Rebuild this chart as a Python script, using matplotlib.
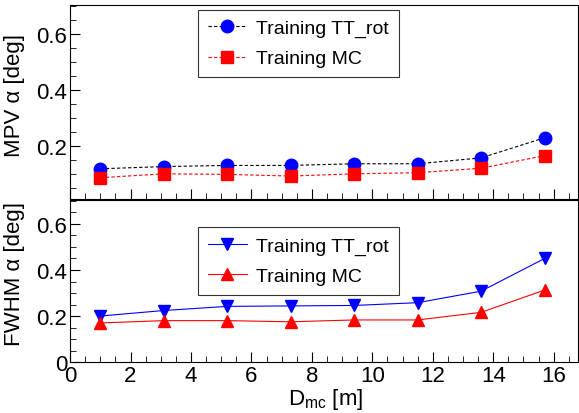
import matplotlib
matplotlib.use("Agg")
import matplotlib.pyplot as plt
from matplotlib.ticker import MultipleLocator, FuncFormatter

plt.rcParams['font.family'] = ['Liberation Sans', 'DejaVu Sans']
plt.rcParams['mathtext.fontset'] = 'custom'
plt.rcParams['mathtext.rm'] = 'Liberation Sans'

# data
dmc = [1.0, 3.1, 5.2, 7.3, 9.4, 11.5, 13.6, 15.7]
mpv_tt = [0.118, 0.126, 0.130, 0.130, 0.136, 0.136, 0.157, 0.229]
mpv_mc = [0.086, 0.100, 0.098, 0.092, 0.100, 0.104, 0.120, 0.165]
fwhm_tt = [0.200, 0.224, 0.242, 0.244, 0.246, 0.258, 0.308, 0.450]
fwhm_mc = [0.170, 0.180, 0.180, 0.175, 0.183, 0.183, 0.216, 0.313]

fig = plt.figure(figsize=(5.79, 4.14), dpi=100)
ax1 = fig.add_axes([0.121, 0.517, 0.877, 0.469])
ax2 = fig.add_axes([0.121, 0.123, 0.877, 0.392])

fs = 16

ax1.plot(dmc, mpv_tt, ls=(0, (3, 2)), lw=0.8, color='black', marker='o',
         ms=9, mfc='blue', mec='blue', label='Training TT_rot')
ax1.plot(dmc, mpv_mc, ls=(0, (3, 2)), lw=0.8, color='red', marker='s',
         ms=9, mfc='red', mec='red', label='Training MC')
ax1.set_ylim(0.01, 0.705)
ax1.set_ylabel('MPV α [deg]', fontsize=fs)

ax2.plot(dmc, fwhm_tt, ls='-', lw=0.8, color='blue', marker='v',
         ms=9, label='Training TT_rot')
ax2.plot(dmc, fwhm_mc, ls='-', lw=0.8, color='red', marker='^',
         ms=9, label='Training MC')
ax2.set_ylim(0, 0.705)
ax2.set_ylabel('FWHM α [deg]', fontsize=fs)

fmt = FuncFormatter(lambda v, p: '%g' % round(v, 3))
for ax in (ax1, ax2):
    ax.set_xlim(0, 16.8)
    ax.xaxis.set_major_locator(MultipleLocator(2))
    ax.xaxis.set_minor_locator(MultipleLocator(0.5))
    ax.yaxis.set_major_locator(MultipleLocator(0.2))
    ax.yaxis.set_minor_locator(MultipleLocator(0.05))
    ax.xaxis.set_major_formatter(fmt)
    ax.yaxis.set_major_formatter(fmt)
    ax.tick_params(which='both', direction='in', top=False, right=False,
                   labelsize=fs, pad=2)
    ax.tick_params(which='major', length=7)
    ax.tick_params(which='minor', length=4)
    leg = ax.legend(loc='upper left', bbox_to_anchor=(0.252, 0.975),
                    fontsize=14, frameon=True, fancybox=False,
                    edgecolor='black', borderpad=0.5, labelspacing=0.65,
                    handlelength=2.0, handletextpad=0.5, borderaxespad=0)
    leg.get_frame().set_linewidth(0.8)

ax1.yaxis.set_label_coords(-0.088, 0.54)
ax2.yaxis.set_label_coords(-0.088, 0.55)
ax1.tick_params(labelbottom=False)
ax2.legend_.set_bbox_to_anchor((0.252, 0.83))

fig.text(0.563, 0.005, r'D$_{\mathrm{mc}}$ [m]', fontsize=fs, ha='center',
         va='bottom')

fig.savefig('out.png', dpi=100)
